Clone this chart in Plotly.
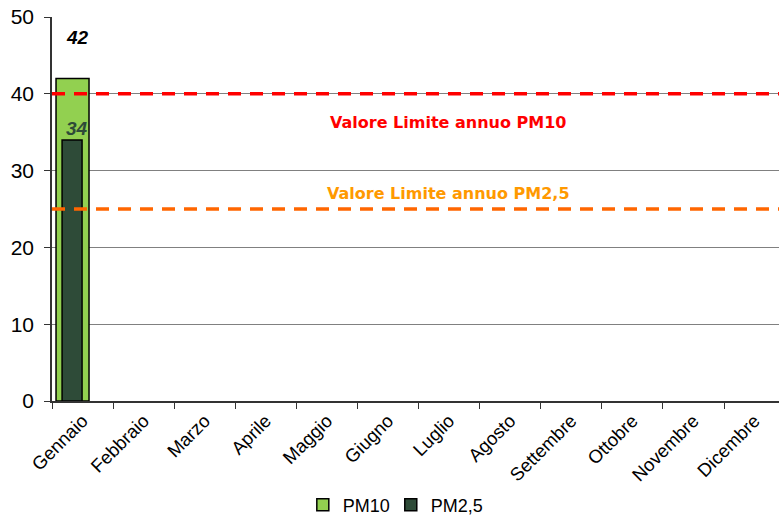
import plotly.graph_objects as go

months = ["Gennaio", "Febbraio", "Marzo", "Aprile", "Maggio", "Giugno",
          "Luglio", "Agosto", "Settembre", "Ottobre", "Novembre", "Dicembre"]
pm10 = [42] + [None] * 11
pm25 = [34] + [None] * 11
limit_values = [40, 25]
limit_labels = ["Valore Limite annuo PM10", "Valore Limite annuo PM2,5"]
limit_colors = ["#FF0000", "#FF6600"]
label_colors = ["#FF0000", "#FF9900"]
label_y = [36.3, 27.0]

fig = go.Figure()
fig.add_trace(go.Bar(x=months, y=pm10, name="PM10", marker=dict(color="#92D050", line=dict(color="black", width=1.5)),
                     width=0.54, offset=-0.434, legend="legend"))
fig.add_trace(go.Bar(x=months, y=pm25, name="PM2,5", marker=dict(color="#2E4B38", line=dict(color="black", width=1.5)),
                     width=0.327, offset=-0.335, legend="legend2"))

for v, c in zip(limit_values, limit_colors):
    fig.add_shape(type="line", xref="paper", x0=0, x1=1, yref="y", y0=v, y1=v,
                  line=dict(color=c, width=3.5, dash="13px,9px"))
for t, c, yv in zip(limit_labels, label_colors, label_y):
    fig.add_annotation(x=0.545, xref="paper", y=yv, yref="y", text="<b>" + t + "</b>", showarrow=False,
                       font=dict(family="DejaVu Sans", size=16, color=c))

# value labels
fig.add_annotation(x=months[0], y=pm10[0], yshift=41, xshift=-5, text="<b><i>%d</i></b>" % pm10[0], showarrow=False,
                   font=dict(family="Liberation Sans", size=19, color="black"))
fig.add_annotation(x=months[0], y=pm25[0], yshift=11, xshift=-6, text="<b><i>%d</i></b>" % pm25[0], showarrow=False,
                   font=dict(family="Liberation Sans", size=19, color="#2E4B38"))

legend_font = dict(family="Liberation Sans", size=18, color="black")
fig.update_layout(
    width=779, height=517,
    margin=dict(l=52, r=0, t=17, b=116, autoexpand=False),
    plot_bgcolor="white", paper_bgcolor="white",
    barmode="overlay",
    showlegend=True,
    legend=dict(orientation="h", x=0.345, xanchor="left", y=-0.271, yanchor="middle",
                font=legend_font, itemwidth=30, bgcolor="rgba(0,0,0,0)"),
    legend2=dict(orientation="h", x=0.466, xanchor="left", y=-0.271, yanchor="middle",
                 font=legend_font, itemwidth=30, bgcolor="rgba(0,0,0,0)"),
    font=dict(family="Liberation Sans", color="black"),
)
fig.update_xaxes(type="category", range=[-0.5, 11.4], tickangle=-45, tickson="boundaries", automargin=False,
                 ticks="outside", ticklen=6, tickcolor="#333", showline=True, linecolor="#333", linewidth=1.5,
                 tickfont=dict(family="Liberation Sans", size=18.5, color="black"), showgrid=False)
fig.update_yaxes(range=[0, 50], dtick=10, ticks="outside", ticklen=6, tickcolor="#333", automargin=False,
                 showline=True, linecolor="#333", linewidth=1.5, gridcolor="#808080", gridwidth=1,
                 ticklabelstandoff=6,
                 tickfont=dict(family="Liberation Sans", size=21, color="black"), zeroline=False)
fig.write_html("out.html", config={"displayModeBar": False},
               post_script="document.body.style.margin='0';document.body.style.overflow='hidden';")
